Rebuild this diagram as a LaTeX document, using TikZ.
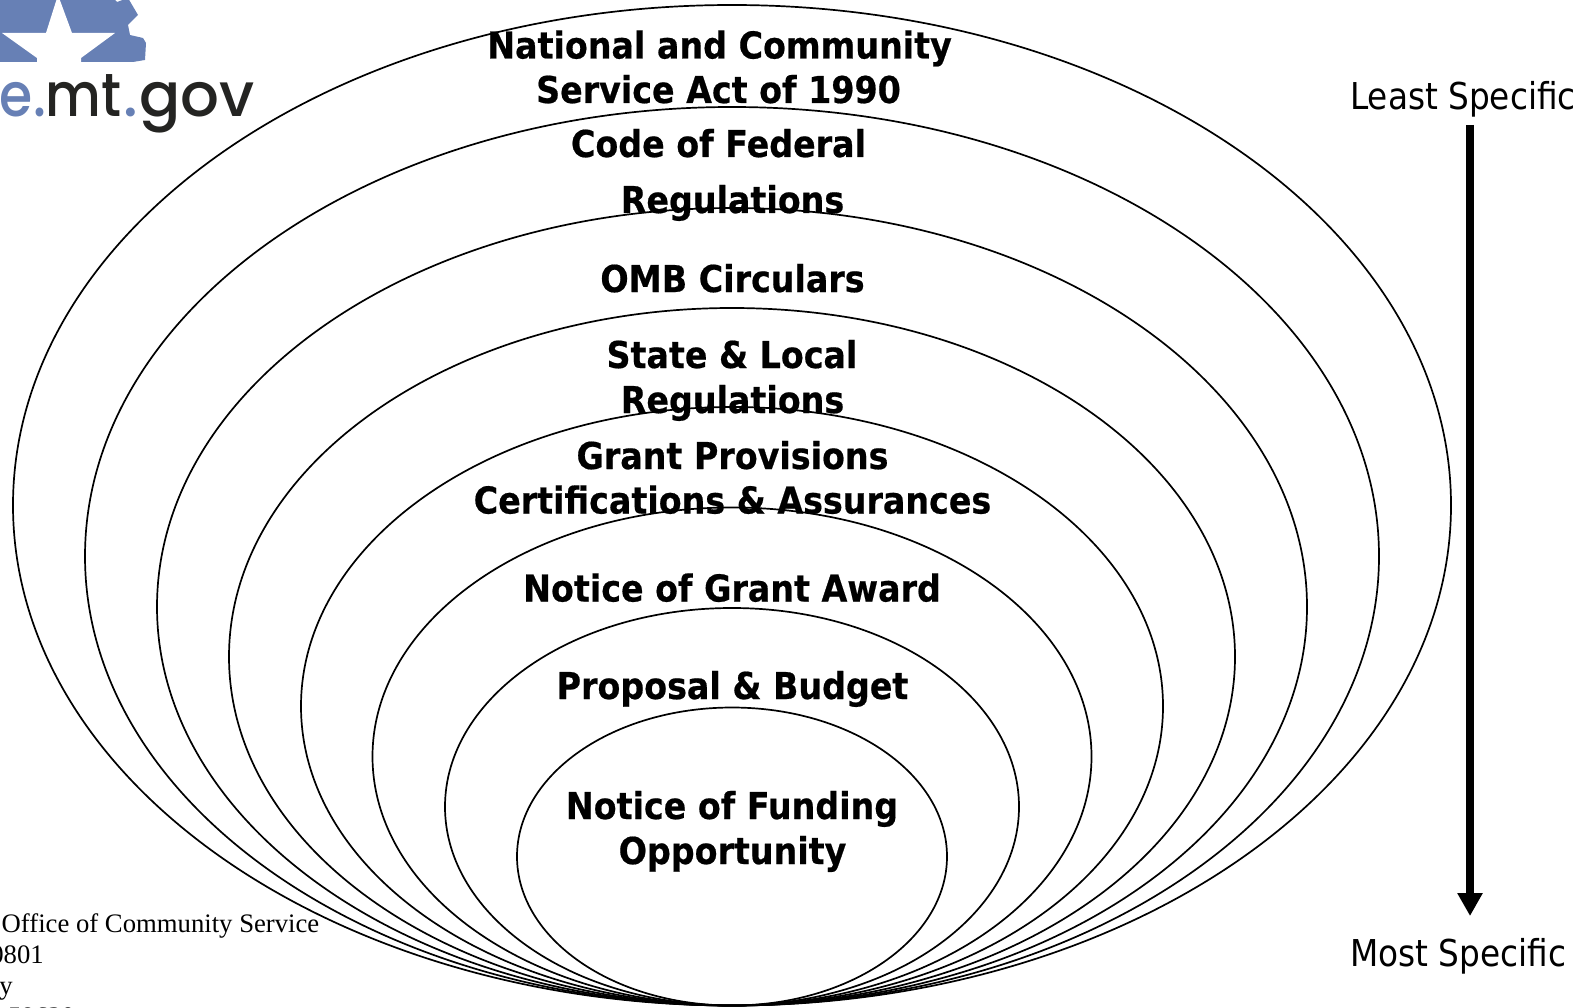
\documentclass[tikz,border=0pt]{standalone}
\usepackage{fontspec}
\setmainfont{Liberation Serif}
\newfontfamily\tah[FakeStretch=0.885]{DejaVu Sans}
\newfontfamily\tahb[FakeStretch=0.9,FakeBold=0.5]{DejaVu Sans Bold}
\newfontfamily\logofont[UprightFont={* Medium}]{Poppins}
\newfontfamily\logonarrow[UprightFont={* Medium},FakeStretch=0.88]{Poppins}
\usetikzlibrary{arrows.meta}
\definecolor{logoblue}{HTML}{6780B5}
\definecolor{logoblack}{HTML}{242422}
\tikzset{
  ring/.style={draw=black,line width=1.7pt},
  lab/.style={inner sep=0pt,anchor=base,font=\tahb\fontsize{37}{37}\selectfont},
  side/.style={inner sep=0pt,anchor=base west,font=\tah\fontsize{37}{37}\selectfont},
  addr/.style={inner sep=0pt,font=\fontsize{26.7}{26.7}\selectfont},
}
\newcommand{\ringy}[2]{\draw[ring] (732,{(#2+1005.5)/2}) ellipse [x radius=#1pt,y radius={(1005.5-#2)/2*1pt}];}
\begin{document}
\begin{tikzpicture}[x=1pt,y=-1pt]
\useasboundingbox (0,0) rectangle (1589,1008);
\clip (0,0) rectangle (1589,1008);
% logo
\fill[logoblue] (0,-2) -- (113,-2) -- (117,2) -- (128,-2) -- (138,15) -- (128,25) -- (130,35) -- (143,38) -- (146,43) -- (145,60) -- (133,62) -- (0,62) -- cycle;
\fill[white] (58,-5) -- (72,33) -- (115,33) -- (81,58) -- (81,64) -- (37,64) -- (37,58) -- (2,33) -- (46,33) -- cycle;
\node[inner sep=0pt,anchor=base east,font=\logofont\fontsize{61}{61}\selectfont,text=logoblack] (logo) at (255,117) {\textcolor{logoblue}{\logonarrow e.}{\logonarrow mt}\kern1.5pt\textcolor{logoblue}{.}\kern1.5pt gov};
% rings
\ringy{719}{5}
\ringy{647}{107}
\ringy{575}{208}
\ringy{503}{308}
\ringy{431}{407}
\ringy{359.5}{507.5}
\ringy{287}{608}
\ringy{215}{707.5}
% labels
\node[lab] (t1) at (719.5,58.5) {National and Community};
\node[lab] (t2) at (718.5,103) {Service Act of 1990};
\node[lab] (t3) at (718.5,157) {Code of Federal};
\node[lab] (t4) at (732.5,213) {Regulations};
\node[lab] (t5) at (732.5,292) {OMB Circulars};
\node[lab] (t6) at (732,368) {State \& Local};
\node[lab] (t7) at (732.5,413) {Regulations};
\node[lab] (t8) at (732.5,469) {Grant Provisions};
\node[lab] (t9) at (732.5,513.5) {Certifications \& Assurances};
\node[lab] (t10) at (732,601.5) {Notice of Grant Award};
\node[lab] (t11) at (732.5,699) {Proposal \& Budget};
\node[lab] (t12) at (732,819) {Notice of Funding};
\node[lab] (t13) at (732.5,864) {Opportunity};
% side scale
\node[side] (least) at (1350,110) {Least Specific};
\node[side] (most) at (1350,966) {Most Specific};
\coordinate (a1) at (1470,125);
\coordinate (a2) at (1470,916);
\draw[line width=8.3pt,-{Triangle[width=24pt,length=23pt]}] (a1) -- (a2);
% address
\node[addr,anchor=base west] (ad1) at (1.5,932) {Office of Community Service};
\node[addr,anchor=base east] (ad2) at (44,963) {20801};
\node[addr,anchor=base east] (ad3) at (13,994) {y};
\node[addr,anchor=base east] (ad4) at (75,1025) {59620};
\end{tikzpicture}
\end{document}
